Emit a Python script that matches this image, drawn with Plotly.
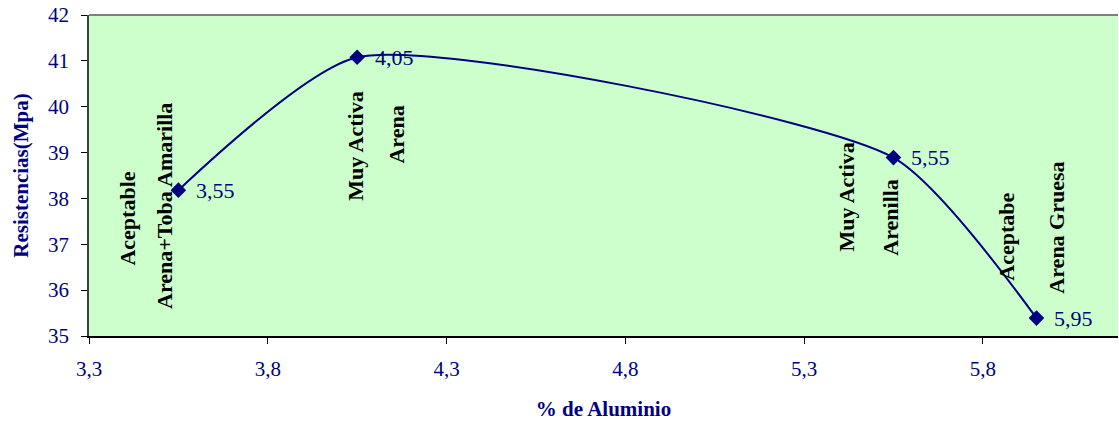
import plotly.graph_objects as go

# data
aluminio = [3.55, 4.05, 5.55, 5.95]
resistencia = [38.18, 41.08, 38.89, 35.39]
point_labels = [f"{v:.2f}".replace(".", ",") for v in aluminio]

notes = ["Aceptable", "Arena+Toba Amarilla", "Muy Activa", "Arena",
         "Muy Activa", "Arenilla", "Aceptabe", "Arena Gruesa"]
x_ticks = [3.3, 3.8, 4.3, 4.8, 5.3, 5.8]
y_ticks = [35, 36, 37, 38, 39, 40, 41, 42]

NAVY = "#000080"
SERIF = "Liberation Serif, Times New Roman, serif"

fig = go.Figure()
fig.add_trace(go.Scatter(
    x=aluminio, y=resistencia, mode="lines+markers",
    line=dict(color=NAVY, width=2, shape="spline", smoothing=0.6),
    marker=dict(symbol="diamond", size=12, color=NAVY),
    showlegend=False, hoverinfo="x+y",
))

annotations = []
for xv, yv, t in zip(aluminio, resistencia, point_labels):
    annotations.append(dict(x=xv, y=yv, xref="x", yref="y", text=t,
                            showarrow=False, xanchor="left", yanchor="middle",
                            xshift=16, font=dict(family=SERIF, size=22, color=NAVY)))

note_pos = [(3.409, 37.56), (3.513, 37.84), (4.047, 39.13), (4.161, 39.39),
            (5.42, 38.04), (5.543, 37.6), (5.867, 37.16), (6.007, 37.36)]
for t, (xv, yv) in zip(notes, note_pos):
    annotations.append(dict(x=xv, y=yv, xref="x", yref="y", text=f"<b>{t}</b>",
                            showarrow=False, textangle=-90,
                            xanchor="center", yanchor="middle",
                            font=dict(family=SERIF, size=22, color="black")))

fig.update_layout(
    width=1119, height=421,
    margin=dict(l=89, r=1, t=15, b=85),
    paper_bgcolor="white", plot_bgcolor="#CCFFCC",
    separators=",.",
    font=dict(family=SERIF, size=21, color=NAVY),
    annotations=annotations,
    shapes=[dict(type="line", xref="paper", yref="paper", x0=0, x1=1, y0=1, y1=1,
                 line=dict(color="#808080", width=2))],
)
fig.update_xaxes(range=[3.3, 6.178], tickvals=x_ticks, ticktext=[f"{v:.1f}".replace(".", ",") for v in x_ticks],
                 showgrid=False, zeroline=False,
                 showline=True, linecolor="black", linewidth=1.5,
                 ticks="outside", ticklen=6, tickcolor="black",
                 ticklabelstandoff=7,
                 tickfont=dict(family=SERIF, size=21, color=NAVY),
                 title=dict(text="<b>% de Aluminio</b>", standoff=22,
                            font=dict(family=SERIF, size=21, color=NAVY)))
fig.update_yaxes(range=[35, 42], tickvals=y_ticks,
                 showgrid=False, zeroline=False,
                 showline=True, linecolor="#404040", linewidth=1.5,
                 ticks="outside", ticklen=6, tickcolor="black",
                 ticklabelstandoff=8,
                 tickfont=dict(family=SERIF, size=21, color=NAVY),
                 title=dict(text="<b>Resistencias(Mpa)</b>", standoff=14,
                            font=dict(family=SERIF, size=21, color=NAVY)))

fig.write_html("out.html")
